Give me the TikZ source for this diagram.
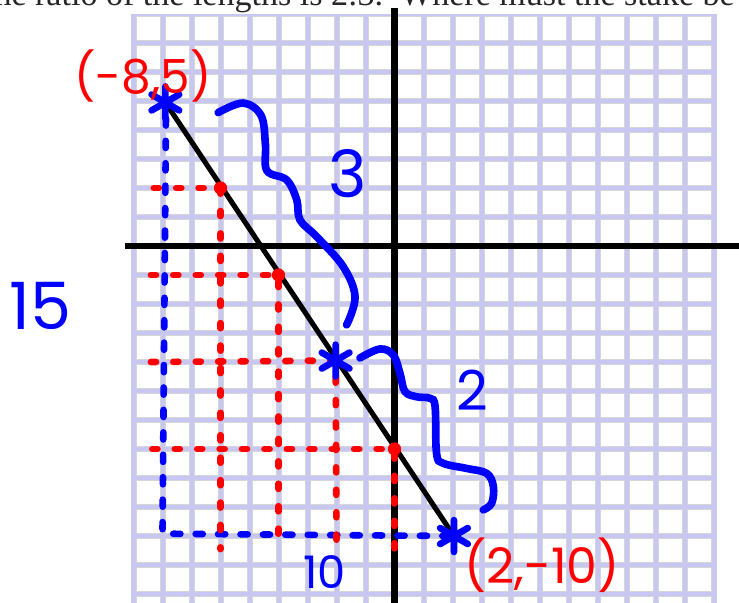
\documentclass[tikz,border=0pt]{standalone}
\usepackage{fontspec}
\setmainfont{Liberation Serif}
\newfontfamily\handfont{Poppins}
\usetikzlibrary{calc}
\definecolor{gridlav}{RGB}{199,199,242}
\definecolor{cellgray}{RGB}{214,214,214}
\definecolor{penblue}{RGB}{0,0,255}
\definecolor{penred}{RGB}{255,0,0}

\begin{document}
\begin{tikzpicture}[line cap=round,
                    cell/.style={fill=white,draw=cellgray,line width=0.6pt},
                    axis/.style={black,line width=6pt,line cap=butt},
                    segment/.style={black,line width=5pt},
                    bluedash/.style={penblue,line width=6.5pt,dash pattern=on 7pt off 15pt},
                    reddash/.style={penred,line width=6.5pt,dash pattern=on 5pt off 17pt},
                    brace/.style={penblue,line width=7.5pt},
                    reddot/.style={circle,fill=penred,inner sep=0pt,minimum size=13pt},
                    handblue/.style={text=penblue,inner sep=0pt},
                    handred/.style={text=penred,inner sep=0pt},
                    asterisk/.pic={\draw[penblue,line width=6.5pt]
                      (90:0.55) -- (-90:0.55) (30:0.55) -- (210:0.55) (-30:0.55) -- (150:0.55);}]

\useasboundingbox (-13.603,-12.276) rectangle (11.879,8.483);
\clip (-13.603,-12.276) rectangle (11.879,8.483);

% question line, cut off by the top edge
\node[anchor=base east,font=\fontsize{33.4}{36}\selectfont,text=black!85,inner sep=0pt]
  (question) at (11.74,8.28) {the ratio of the lengths is 2:3.\ \ Where must the stake be};

% graph paper
\fill[gridlav] (-9.07,-12.6) rectangle (11.12,8.0);
\foreach \i in {-9,...,10}
  \foreach \j in {-13,...,7}
    \draw[cell] (\i+0.09,\j+0.09) rectangle (\i+0.91,\j+0.91);

\draw[axis] (-9.3,0) -- (12,0);
\draw[axis] (0,8.22) -- (0,-12.5);

\coordinate (A) at (-7.9,4.95);
\coordinate (B) at (2.05,-10.0);
\coordinate (P) at (-2.03,-3.95);
\coordinate (C) at (-8.0,-9.92);
\coordinate (D1) at (-6,2);
\coordinate (D2) at (-4,-1);
\coordinate (D4) at (0,-7);

\draw[segment] (A) -- (B);

\draw[bluedash] ($(A)+(0.02,-0.55)$) -- (C) -- (B);

\draw[reddash] (-8.3,2) -- (D1) -- (-6,-10.45);
\draw[reddash] (-8.4,-1) -- (D2) -- (-4,-10.45);
\draw[reddash] (-8.4,-4) -- (P) -- (-2,-10.45);
\draw[reddash] (-8.35,-7) -- (D4) -- (0,-10.45);

\node[reddot] (dot1) at (D1) {};
\node[reddot] (dot2) at (D2) {};
\node[reddot] (dot4) at (D4) {};

\pic at (A) {asterisk};
\pic at (P) {asterisk};
\pic at (B) {asterisk};

\draw[brace] plot[smooth,tension=0.6] coordinates {(-6.08,4.6) (-5.22,4.93) (-4.6,4.5)
  (-4.45,3.5) (-4.4,2.6) (-3.72,2.28) (-3.37,1.59) (-3.26,0.9) (-2.68,0.32)
  (-1.77,-0.71) (-1.36,-1.75) (-1.65,-2.72)};
\draw[brace] plot[smooth,tension=0.6] coordinates {(-1.19,-3.86) (-0.5,-3.55) (-0.04,-3.76)
  (0.19,-4.39) (0.36,-5.02) (0.77,-5.2) (1.22,-5.25) (1.4,-5.54) (1.45,-7.15)
  (1.68,-7.49) (2.49,-7.67) (3.18,-7.84) (3.41,-8.3) (3.35,-8.87) (3.06,-9.1)};

\node[handblue,font=\handfont\fontsize{64}{64}\selectfont] (three) at (-1.6,2.5) {3};
\node[handblue,font=\handfont\fontsize{54}{54}\selectfont] (two) at (2.7,-4.97) {2};
\node[handblue,font=\handfont\fontsize{64}{64}\selectfont] (fifteen) at (-12.2,-2.07) {15};
\node[handblue,font=\handfont\fontsize{44}{44}\selectfont] (ten) at (-2.4,-11.25) {10};
\node[handred,font=\handfont\fontsize{46}{46}\selectfont] (start) at (-8.67,5.85) {(-8,5)};
\node[handred,font=\handfont\fontsize{48}{48}\selectfont] (end) at (5.09,-11.0) {(2,-10)};

\end{tikzpicture}
\end{document}
